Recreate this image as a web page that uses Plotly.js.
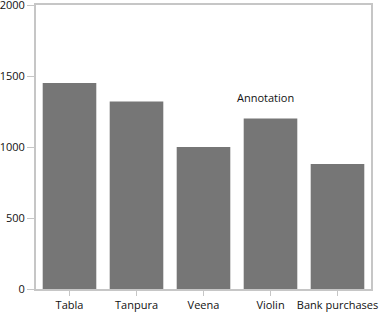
<!DOCTYPE html>
<html><head><meta charset="utf-8">
<script src="https://cdn.plot.ly/plotly-3.0.1.min.js"></script>
<style>html,body{margin:0;padding:0;background:#fff}#c{width:381px;height:315px}</style>
</head><body><div id="c"></div>
<script>
const categories = ["Tabla", "Tanpura", "Veena", "Violin", "Bank purchases"];
const values = [1450, 1320, 1000, 1200, 880];
const yTicks = [0, 500, 1000, 1500, 2000];
const annotationText = "Annotation";

const axisColor = "#c6c6c6";
Plotly.newPlot("c", [{
  type: "bar", x: categories, y: values,
  marker: {color: "#767676"}, hoverinfo: "none"
}], {
  width: 381, height: 315,
  margin: {l: 36, r: 10, t: 5, b: 26},
  paper_bgcolor: "#fff", plot_bgcolor: "#fff",
  font: {family: "Open Sans, Noto Sans, sans-serif", size: 11, color: "#111"},
  bargap: 0.2, showlegend: false,
  xaxis: {showline: true, linecolor: axisColor, linewidth: 2, mirror: true,
    ticks: "outside", ticklen: 5, tickcolor: axisColor, tickwidth: 1,
    showgrid: false, tickfont: {size: 11}},
  yaxis: {range: [0, 2000], tickvals: yTicks, showline: true, linecolor: axisColor,
    linewidth: 2, mirror: true, ticks: "outside", ticklen: 7, tickcolor: axisColor,
    tickwidth: 1, showgrid: false, zeroline: false, tickfont: {size: 11},
    ticklabeloverflow: "allow"},
  annotations: [{x: "Violin", y: 1350, text: annotationText, showarrow: false,
    xshift: -5, font: {size: 11, color: "#111"}}]
}, {staticPlot: true});
</script></body></html>
